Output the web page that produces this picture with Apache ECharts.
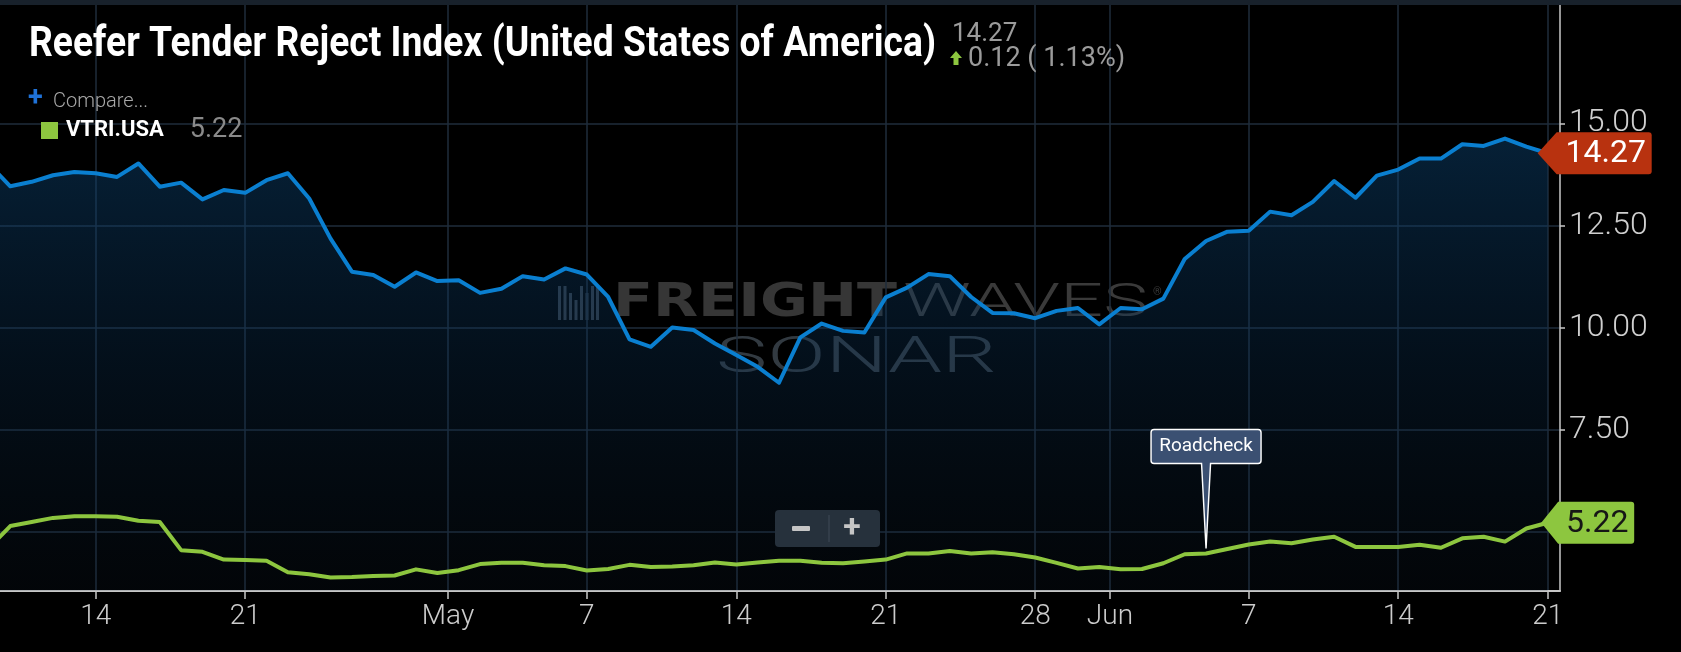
<!DOCTYPE html>
<html>
<head>
<meta charset="utf-8">
<script src="https://cdn.jsdelivr.net/npm/echarts@6/dist/echarts.min.js"></script>
<style>
html,body{margin:0;padding:0;background:#000;}
#c{width:1681px;height:652px;}
</style>
</head>
<body>
<div id="c"></div>
<script>
// ---------- data ----------
const startDate = '2019-04-09';   // first daily observation (one value per day)
const reeferValues = [
  14.00, 13.46, 13.57, 13.73, 13.81, 13.78, 13.69, 14.02, 13.45, 13.55, 13.14, 13.37, 13.30, 13.61, 13.78, 13.16,
  12.18, 11.37, 11.29, 11.00, 11.35, 11.14,
  11.16, 10.85, 10.95, 11.26, 11.18, 11.45, 11.30, 10.75, 9.71, 9.53, 10.00, 9.94, 9.61, 9.33, 9.04, 8.65,
  9.76, 10.10, 9.92, 9.88, 10.74, 10.98, 11.31, 11.26, 10.75, 10.36, 10.35, 10.23, 10.41, 10.48, 10.08,
  10.48, 10.45, 10.71, 11.68, 12.12, 12.35, 12.37, 12.84, 12.75, 13.08, 13.59, 13.18, 13.72, 13.87, 14.14,
  14.14, 14.49, 14.45, 14.63, 14.43, 14.27
];
const vtriValues = [
  4.60, 5.14, 5.24, 5.34, 5.38, 5.38, 5.37, 5.27, 5.24, 4.55, 4.51, 4.32, 4.31, 4.29, 4.01, 3.96,
  3.88, 3.89, 3.92, 3.93, 4.08, 3.99,
  4.06, 4.21, 4.24, 4.24, 4.18, 4.16, 4.05, 4.09, 4.19, 4.14, 4.15, 4.18, 4.25, 4.20, 4.25, 4.29,
  4.29, 4.24, 4.23, 4.27, 4.32, 4.47, 4.47, 4.53, 4.47, 4.50, 4.45, 4.37, 4.24, 4.10, 4.14,
  4.08, 4.09, 4.23, 4.45, 4.47, 4.58, 4.69, 4.76, 4.72, 4.81, 4.88, 4.63, 4.63, 4.63, 4.68,
  4.61, 4.84, 4.88, 4.76, 5.08, 5.22
];
const xTickDates  = ['2019-04-14T12:00','2019-04-21T12:00','2019-05-01T00:00','2019-05-07T12:00','2019-05-14T12:00',
                     '2019-05-21T12:00','2019-05-28T12:00','2019-06-01T00:00','2019-06-07T12:00','2019-06-14T12:00','2019-06-21T12:00'];
const xTickLabels = ['14','21','May','7','14','21','28','Jun','7','14','21'];
const yTickValues = [5, 7.5, 10, 12.5, 15];
const eventMarks  = [{ date: '2019-06-05', label: 'Roadcheck' }];
const titleText   = 'Reefer Tender Reject Index (United States of America)';
const headerValue = '14.27';
const headerChange = '0.12 ( 1.13%)';
const mainName    = 'Reefer Tender Reject Index';
const compareName = 'VTRI.USA';
const compareText = 'Compare...';
const watermark   = ['FREIGHT', 'WAVES', 'SONAR'];

// ---------- helpers ----------
function ts(s) {
  const parts = s.split('T');
  const d = parts[0].split('-').map(Number);
  const t = (parts[1] || '12:00').split(':').map(Number);
  return new Date(d[0], d[1] - 1, d[2], t[0], t[1]).getTime();
}
const DAY = 86400000;
const t0 = ts(startDate);
const days = reeferValues.map((_, i) => t0 + i * DAY);
const tickTs = xTickDates.map(ts);
const xMin = ts('2019-04-10T00:26');
const xMax = ts('2019-06-22T01:50');
const lastIdx = days.length - 1;
const evIdx = days.indexOf(ts(eventMarks[0].date));

const mctx = document.createElement('canvas').getContext('2d');
function textW(text, weight, size, family) {
  mctx.font = weight + ' ' + size + 'px ' + family;
  return mctx.measureText(text).width;
}
function txt(x, y, text, o) {
  return Object.assign({
    type: 'text', x: x, y: y, z: 100, silent: true,
    style: Object.assign({
      text: text, fill: '#fff', fontFamily: 'Roboto', fontSize: 20, fontWeight: 'normal',
      align: 'left', verticalAlign: 'middle', textAlign: 'left', textVerticalAlign: 'middle'
    }, o.style || {})
  }, o.el || {});
}

const titleScale = 907 / textW(titleText, 'bold', 42, 'Roboto');
const wmS1 = 284 / textW(watermark[0], 'bold', 46, '"DejaVu Sans"');
const wmS2 = 245 / textW(watermark[1], '300', 46, 'Roboto');
const wmS3 = 281 / textW(watermark[2], '300', 50, 'Roboto');

const chart = echarts.init(document.getElementById('c'), null, { renderer: 'canvas' });

const iconBars = [[558, 286, 34], [563.5, 286, 34], [569, 293, 27], [574.5, 300, 20], [580, 286, 34], [585.5, 293, 27], [591, 286, 34], [596, 286, 34]];

const graphics = [
  { type: 'rect', shape: { x: 0, y: 0, width: 1681, height: 5 }, style: { fill: '#18212b' }, z: 100, silent: true },
  txt(29, 45, titleText, { style: { fontSize: 42, fontWeight: 'bold', fill: '#ffffff' }, el: { scaleX: titleScale } }),
  txt(952, 34, headerValue, { style: { fontSize: 26, fill: '#9b9b9b' } }),
  { type: 'polygon', z: 100, silent: true,
    shape: { points: [[950, 58], [956, 51], [962, 58], [958.5, 58], [958.5, 65], [953.5, 65], [953.5, 58]] },
    style: { fill: '#8dc63f' } },
  txt(968, 59, headerChange, { style: { fontSize: 27, fill: '#9b9b9b' } }),
  txt(28, 99, '+', { style: { fontSize: 27, fontWeight: 'bold', fill: '#1f72d8' } }),
  txt(53, 102, compareText, { style: { fontSize: 20, fontWeight: 300, fill: '#a8a8a8' } }),
  // watermark (behind the series)
  txt(613, 304, watermark[0], { style: { fontSize: 46, fontWeight: 'bold', fontFamily: '"DejaVu Sans"', fill: 'rgba(90,90,90,0.6)' }, el: { scaleX: wmS1, z: 0 } }),
  txt(903, 304, watermark[1], { style: { fontSize: 46, fontWeight: 300, fill: 'rgba(115,115,115,0.5)' }, el: { scaleX: wmS2, z: 0 } }),
  txt(1153, 292, '®', { style: { fontSize: 11, fill: 'rgba(110,110,110,0.5)' }, el: { z: 0 } }),
  txt(716, 359, watermark[2], { style: { fontSize: 50, fontWeight: 300, fill: 'rgba(100,115,130,0.5)' }, el: { scaleX: wmS3, z: 0 } }),
  // zoom buttons
  { type: 'rect', z: 100, silent: true, shape: { x: 775, y: 510, width: 105, height: 37, r: 4 }, style: { fill: '#26313c' } },
  { type: 'line', z: 101, silent: true, shape: { x1: 829, y1: 515, x2: 829, y2: 542 }, style: { stroke: '#3f4b57', lineWidth: 1 } },
  { type: 'rect', z: 101, silent: true, shape: { x: 792, y: 526, width: 18, height: 5, r: 1 }, style: { fill: '#c5c5c5' } },
  txt(852, 529, '+', { style: { fontSize: 32, fontWeight: 'bold', fill: '#c5c5c5', align: 'center', textAlign: 'center' }, el: { z: 101 } })
];
iconBars.forEach(b => graphics.push({ type: 'rect', z: 0, silent: true, shape: { x: b[0], y: b[1], width: 3, height: b[2] }, style: { fill: 'rgba(95,110,125,0.55)' } }));

const option = {
  backgroundColor: '#000000',
  animation: false,
  grid: { left: 0, right: 121, top: 5, bottom: 61 },
  legend: {
    data: [{ name: compareName, icon: 'rect' }],
    left: 36, top: 112, itemWidth: 17, itemHeight: 17, selectedMode: false,
    formatter: name => '{n|' + name + '}{v|' + vtriValues[lastIdx].toFixed(2) + '}',
    textStyle: {
      rich: {
        n: { color: '#ffffff', fontWeight: 'bold', fontSize: 22, fontFamily: 'Roboto', padding: [0, 0, 0, 3] },
        v: { color: '#8a8a8a', fontSize: 27, fontFamily: 'Roboto', padding: [0, 0, 0, 26] }
      }
    }
  },
  xAxis: {
    type: 'value', min: xMin, max: xMax,
    axisLine: { show: true, onZero: false, lineStyle: { color: '#c8c8c8', width: 2 } },
    axisTick: { show: true, length: 8, customValues: tickTs, lineStyle: { color: '#c8c8c8', width: 1.5 } },
    axisLabel: {
      customValues: tickTs, color: '#cccccc', fontSize: 28, fontFamily: 'Roboto', fontWeight: 300, margin: 12,
      formatter: v => { const i = tickTs.indexOf(+v); return i >= 0 ? xTickLabels[i] : ''; }
    },
    splitLine: { show: true, lineStyle: { color: '#1f2d3b', width: 1.5 } }
  },
  yAxis: {
    type: 'value', position: 'right', min: 3.55, max: 17.9,
    axisLine: { show: true, onZero: false, lineStyle: { color: '#c8c8c8', width: 1.5 } },
    axisTick: { show: true, length: 5, customValues: yTickValues, lineStyle: { color: '#c8c8c8', width: 1.5 } },
    axisLabel: { customValues: yTickValues, formatter: v => Number(v).toFixed(2), color: '#cfcfcf', fontSize: 32, fontFamily: 'Roboto', fontWeight: 300, margin: 9 },
    splitLine: { show: true, lineStyle: { color: '#1f2d3b', width: 1.5 } }
  },
  graphic: { elements: graphics },
  series: [
    {
      name: mainName, type: 'line', z: 3,
      data: days.map((t, i) => [t, reeferValues[i]]),
      showSymbol: false, symbol: 'none',
      lineStyle: { color: '#0a7fd0', width: 4, join: 'round' },
      itemStyle: { color: '#0a7fd0' },
      areaStyle: {
        color: new echarts.graphic.LinearGradient(0, 0, 0, 1, [
          { offset: 0, color: 'rgba(12,68,115,0.68)' },
          { offset: 0.5, color: 'rgba(12,52,90,0.42)' },
          { offset: 1, color: 'rgba(15,35,55,0.22)' }
        ])
      },
      markPoint: {
        silent: true, animation: false,
        data: [{
          coord: [days[lastIdx], reeferValues[lastIdx]], value: reeferValues[lastIdx],
          symbol: 'path://M0,21L19,0H111Q114,0,114,3V39Q114,42,111,42H19Z',
          symbolSize: [114, 42], symbolOffset: [47, 0],
          itemStyle: { color: '#b8320f' },
          label: { show: true, position: 'inside', offset: [11, 1], formatter: p => Number(p.value).toFixed(2),
                   color: '#ffffff', fontSize: 32, fontFamily: 'Roboto' }
        }]
      }
    },
    {
      name: compareName, type: 'line', z: 4,
      data: days.map((t, i) => [t, vtriValues[i]]),
      showSymbol: false, symbol: 'none',
      lineStyle: { color: '#8dc63f', width: 4, join: 'round' },
      itemStyle: { color: '#8dc63f' },
      markPoint: {
        silent: true, animation: false,
        data: [
          {
            coord: [days[evIdx], vtriValues[evIdx]], value: eventMarks[0].label,
            symbol: 'path://M3,0H107Q110,0,110,3V31Q110,34,107,34H59.5L55,119L50.5,34H3Q0,34,0,31V3Q0,0,3,0Z',
            symbolSize: [110, 119], symbolOffset: [0, -64.5],
            itemStyle: { color: '#3b5072', borderColor: '#ffffff', borderWidth: 1.5 },
            label: { show: true, position: 'inside', offset: [0, -42.5], formatter: () => eventMarks[0].label,
                     color: '#ffffff', fontSize: 19, fontFamily: 'Roboto' }
          },
          {
            coord: [days[lastIdx], vtriValues[lastIdx]], value: vtriValues[lastIdx],
            symbol: 'path://M0,21L17,0H90Q93,0,93,3V39Q93,42,90,42H17Z',
            symbolSize: [93, 42], symbolOffset: [40, 0],
            itemStyle: { color: '#8dc63f' },
            label: { show: true, position: 'inside', offset: [9.5, 1], formatter: p => Number(p.value).toFixed(2),
                     color: '#161616', fontSize: 32, fontFamily: 'Roboto' }
          }
        ]
      }
    }
  ]
};
chart.setOption(option);
</script>
</body>
</html>
